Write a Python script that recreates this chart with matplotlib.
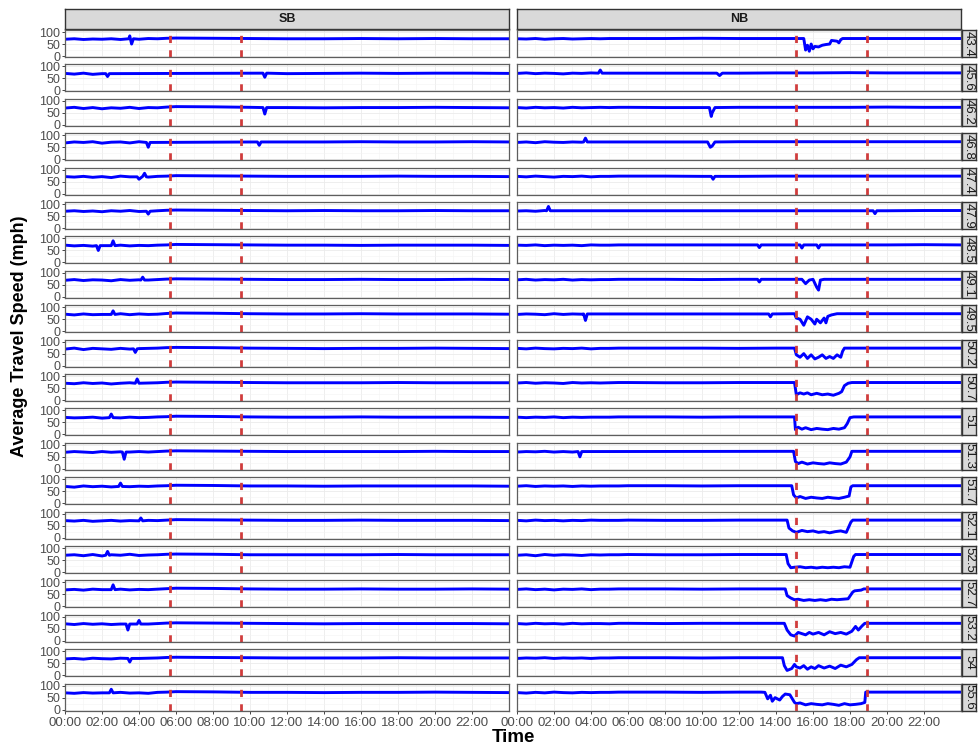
import matplotlib
matplotlib.use("Agg")
import matplotlib.pyplot as plt
import numpy as np

plt.rcParams['font.family'] = ['Liberation Sans', 'DejaVu Sans']

# mile posts (right strip labels) and direction facets
mileposts = ["43.4", "45.6", "46.2", "46.8", "47.4", "47.9", "48.5", "49.1", "49.5", "50.2",
             "50.7", "51", "51.3", "51.7", "52.1", "52.5", "52.7", "53.2", "54", "55.6"]
directions = ["SB", "NB"]
tick_hours = [0, 2, 4, 6, 8, 10, 12, 14, 16, 18, 20, 22]
tick_labels = ["00:00", "02:00", "04:00", "06:00", "08:00", "10:00",
               "12:00", "14:00", "16:00", "18:00", "20:00", "22:00"]
# dashed reference times (hours)
sb_marks = [5.65, 9.5]
nb_marks = [15.08, 18.92]

# background readings (mph) at these hours
bg_hours = [0, 0.5, 1, 1.5, 2, 2.5, 3, 3.5, 4, 4.5, 5, 5.5, 6, 8, 10, 12, 14, 16, 18, 20, 22, 24]

sb_base = [
    [70, 72, 69, 71, 70, 72, 69, 72, 70, 73, 72, 74, 75, 74, 73, 72, 72, 73, 72, 73, 72, 72],
    [71, 68, 72, 67, 70, 66, 71, 69, 72, 70, 73, 74, 75, 74, 72, 70, 71, 72, 71, 72, 72, 71],
    [70, 73, 68, 72, 67, 71, 69, 73, 68, 72, 71, 74, 76, 75, 73, 72, 71, 72, 72, 73, 72, 71],
    [68, 72, 70, 73, 67, 71, 72, 68, 73, 70, 71, 74, 75, 74, 73, 72, 72, 73, 72, 72, 73, 72],
    [71, 69, 72, 68, 71, 67, 73, 70, 72, 69, 72, 73, 75, 74, 73, 72, 72, 72, 73, 72, 72, 71],
    [70, 72, 69, 71, 68, 72, 70, 73, 69, 71, 72, 74, 75, 74, 73, 72, 73, 72, 72, 73, 72, 72],
    [72, 69, 71, 68, 73, 70, 72, 69, 71, 70, 72, 73, 75, 74, 73, 72, 72, 71, 72, 72, 72, 71],
    [69, 72, 68, 71, 70, 67, 72, 69, 71, 70, 72, 74, 75, 74, 73, 72, 72, 73, 72, 72, 73, 72],
    [71, 68, 72, 69, 70, 68, 73, 69, 72, 70, 71, 74, 76, 75, 73, 72, 72, 73, 72, 72, 72, 71],
    [69, 73, 67, 72, 70, 68, 72, 69, 71, 72, 73, 75, 76, 75, 73, 72, 71, 72, 72, 73, 72, 71],
    [70, 68, 72, 69, 71, 67, 70, 72, 68, 71, 72, 74, 75, 74, 73, 72, 72, 72, 73, 72, 72, 72],
    [71, 69, 70, 72, 68, 71, 69, 72, 70, 71, 73, 74, 76, 75, 73, 72, 72, 73, 72, 72, 72, 71],
    [69, 72, 70, 68, 72, 69, 71, 70, 72, 70, 72, 74, 75, 74, 73, 72, 72, 72, 72, 73, 72, 72],
    [70, 67, 72, 69, 71, 68, 72, 69, 71, 70, 72, 73, 75, 74, 72, 72, 71, 72, 72, 72, 72, 71],
    [71, 69, 72, 68, 70, 72, 69, 71, 68, 72, 71, 73, 75, 74, 73, 72, 72, 73, 72, 72, 72, 71],
    [70, 72, 68, 73, 67, 72, 70, 74, 69, 71, 72, 74, 75, 74, 72, 72, 72, 72, 73, 72, 72, 72],
    [69, 71, 68, 72, 70, 67, 72, 69, 71, 70, 72, 74, 76, 75, 73, 72, 72, 73, 72, 72, 73, 72],
    [71, 68, 72, 69, 71, 68, 70, 68, 72, 70, 72, 74, 75, 74, 73, 72, 71, 72, 72, 72, 72, 71],
    [68, 70, 67, 71, 69, 68, 71, 67, 70, 71, 72, 74, 75, 74, 73, 72, 72, 72, 73, 72, 72, 72],
    [70, 68, 71, 69, 70, 68, 72, 69, 70, 68, 72, 73, 75, 74, 72, 72, 71, 72, 72, 73, 72, 71],
]

nb_base = [
    [72, 71, 73, 70, 72, 73, 71, 72, 73, 72, 73, 73, 73, 73, 74, 73, 73, 73, 73, 73, 73, 73],
    [71, 73, 70, 72, 71, 69, 72, 71, 73, 72, 72, 73, 73, 73, 72, 72, 73, 73, 74, 73, 73, 73],
    [72, 70, 73, 71, 72, 70, 73, 71, 72, 73, 72, 73, 73, 72, 72, 73, 73, 73, 73, 74, 73, 73],
    [70, 72, 69, 73, 71, 70, 72, 71, 73, 72, 72, 73, 73, 73, 72, 73, 73, 73, 73, 73, 73, 73],
    [72, 70, 73, 71, 69, 72, 71, 73, 70, 72, 72, 73, 73, 73, 72, 72, 73, 73, 73, 73, 73, 73],
    [71, 72, 70, 73, 71, 72, 70, 72, 71, 73, 72, 72, 73, 73, 72, 73, 73, 73, 73, 72, 73, 73],
    [72, 71, 73, 70, 72, 71, 72, 70, 73, 72, 72, 73, 73, 73, 73, 73, 73, 73, 73, 73, 74, 73],
    [71, 73, 70, 72, 71, 73, 70, 72, 71, 72, 72, 73, 73, 73, 72, 73, 73, 72, 73, 73, 73, 73],
    [70, 72, 71, 69, 73, 70, 72, 71, 72, 71, 72, 72, 73, 73, 72, 73, 73, 72, 73, 73, 73, 73],
    [72, 70, 73, 71, 70, 72, 71, 73, 70, 72, 72, 73, 73, 73, 73, 72, 73, 72, 73, 73, 73, 73],
    [71, 73, 70, 72, 71, 69, 73, 71, 72, 71, 72, 73, 73, 72, 72, 73, 73, 72, 73, 73, 73, 73],
    [72, 70, 72, 71, 73, 70, 72, 71, 72, 72, 72, 73, 73, 73, 72, 73, 73, 72, 73, 73, 73, 73],
    [70, 72, 71, 73, 70, 72, 70, 72, 71, 72, 72, 73, 73, 73, 72, 73, 73, 72, 73, 73, 73, 73],
    [71, 73, 70, 72, 71, 72, 70, 72, 71, 72, 72, 72, 73, 73, 72, 73, 73, 72, 73, 73, 73, 73],
    [72, 70, 73, 71, 72, 70, 72, 71, 73, 72, 72, 72, 73, 72, 72, 73, 73, 72, 73, 73, 73, 73],
    [70, 72, 68, 73, 70, 72, 71, 69, 72, 71, 72, 72, 73, 72, 72, 73, 73, 72, 73, 73, 73, 73],
    [71, 73, 70, 72, 69, 72, 71, 73, 70, 72, 72, 73, 73, 73, 72, 73, 73, 72, 73, 73, 73, 73],
    [72, 70, 73, 71, 72, 70, 73, 71, 72, 72, 71, 73, 73, 72, 73, 73, 73, 72, 73, 73, 73, 73],
    [70, 72, 71, 73, 70, 72, 71, 72, 70, 72, 72, 73, 73, 73, 72, 73, 73, 72, 73, 73, 73, 73],
    [71, 69, 72, 70, 73, 71, 70, 72, 71, 72, 72, 73, 73, 73, 72, 73, 73, 72, 73, 73, 73, 73],
]

# local events (dips / spikes / congestion): hours, mph
sb_ev_hours = [
    [3.45, 3.5, 3.6, 3.7], [2.2, 2.3, 2.4, 10.7, 10.8, 10.9], [10.7, 10.8, 10.9], [4.4, 4.5, 4.6, 10.4, 10.5, 10.6],
    [3.9, 4.0, 4.2, 4.3, 4.4], [4.4, 4.5, 4.6], [1.7, 1.8, 1.9, 2.5, 2.6, 2.7], [4.1, 4.2, 4.3],
    [2.5, 2.6, 2.7], [3.7, 3.8, 3.9], [3.8, 3.9, 4.0], [2.4, 2.5, 2.6],
    [3.1, 3.2, 3.3], [2.9, 3.0, 3.1], [4.0, 4.1, 4.2], [2.2, 2.3, 2.4],
    [2.5, 2.6, 2.7], [3.3, 3.4, 3.5, 3.9, 4.0, 4.1], [3.4, 3.5, 3.6], [2.4, 2.5, 2.6],
]
sb_ev_speeds = [
    [72, 84, 50, 72], [70, 58, 70, 72, 55, 72], [72, 45, 72], [70, 50, 70, 72, 58, 72],
    [70, 60, 72, 85, 70], [70, 58, 70], [70, 50, 70, 70, 90, 70], [70, 82, 70],
    [70, 85, 70], [70, 55, 70], [70, 88, 70], [70, 85, 70],
    [70, 40, 70], [70, 84, 70], [70, 82, 70], [70, 86, 70],
    [70, 90, 70], [70, 45, 70, 70, 85, 70], [70, 55, 70], [70, 85, 70],
]

nb_ev_hours = [
    [15.5, 15.6, 15.7, 15.8, 15.9, 16.0, 16.1, 16.3, 16.5, 16.7, 16.9, 17.0, 17.3, 17.4, 17.5, 17.6],
    [4.4, 4.5, 4.6, 10.8, 10.95, 11.1],
    [10.4, 10.5, 10.55, 10.7],
    [3.6, 3.7, 3.8, 10.3, 10.45, 10.55, 10.7],
    [10.5, 10.6, 10.7],
    [1.6, 1.7, 1.8, 19.25, 19.35, 19.45],
    [13.0, 13.1, 13.2, 15.3, 15.4, 15.5, 16.2, 16.3, 16.4],
    [13.0, 13.1, 13.2, 15.4, 15.6, 15.8, 16.0, 16.2, 16.3, 16.4, 16.6],
    [3.6, 3.7, 3.8, 13.6, 13.7, 13.8, 15.0, 15.1, 15.3, 15.5, 15.7, 15.9, 16.1, 16.2, 16.4, 16.6, 16.7, 16.8, 17.0, 17.3],
    [15.0, 15.1, 15.3, 15.5, 15.7, 15.9, 16.1, 16.3, 16.5, 16.7, 16.9, 17.1, 17.3, 17.5, 17.6, 17.7],
    [15.0, 15.1, 15.3, 15.5, 15.7, 15.9, 16.2, 16.5, 16.8, 17.1, 17.4, 17.55, 17.7, 17.9, 18.1],
    [15.0, 15.05, 15.2, 15.4, 15.6, 15.9, 16.2, 16.5, 16.8, 17.1, 17.4, 17.7, 17.85, 18.0, 18.2],
    [3.3, 3.4, 3.5, 14.95, 15.05, 15.2, 15.4, 15.7, 16.0, 16.3, 16.6, 16.9, 17.2, 17.5, 17.8, 18.0, 18.1],
    [14.85, 14.95, 15.1, 15.3, 15.6, 15.9, 16.2, 16.5, 16.8, 17.1, 17.4, 17.7, 17.95, 18.05, 18.15],
    [14.6, 14.7, 14.9, 15.1, 15.4, 15.7, 16.0, 16.3, 16.6, 16.9, 17.2, 17.5, 17.8, 18.05, 18.15],
    [14.55, 14.65, 14.8, 15.0, 15.3, 15.6, 15.9, 16.2, 16.5, 16.8, 17.1, 17.4, 17.7, 18.0, 18.2, 18.3],
    [14.5, 14.6, 14.8, 15.0, 15.2, 15.5, 15.8, 16.1, 16.4, 16.7, 17.0, 17.3, 17.6, 17.9, 18.15, 18.25, 18.6, 18.75],
    [14.45, 14.6, 14.8, 15.0, 15.2, 15.4, 15.6, 15.8, 16.0, 16.3, 16.6, 16.9, 17.2, 17.5, 17.8, 18.1, 18.3, 18.45, 18.65, 18.8],
    [14.35, 14.45, 14.6, 14.85, 15.0, 15.1, 15.3, 15.5, 15.7, 15.9, 16.1, 16.3, 16.6, 16.9, 17.2, 17.5, 17.8, 18.1, 18.35, 18.5],
    [13.2, 13.4, 13.55, 13.7, 13.8, 13.95, 14.2, 14.35, 14.5, 14.75, 15.0, 15.1, 15.3, 15.6, 15.9, 16.2, 16.5, 16.8,
     17.1, 17.4, 17.7, 18.0, 18.3, 18.6, 18.8, 18.85],
]
nb_ev_speeds = [
    [73, 25, 45, 20, 50, 30, 40, 38, 45, 48, 50, 65, 62, 55, 68, 73],
    [72, 85, 72, 72, 62, 72],
    [72, 35, 50, 72],
    [72, 88, 72, 72, 50, 55, 72],
    [72, 60, 72],
    [72, 90, 72, 72, 60, 72],
    [73, 62, 73, 73, 60, 73, 73, 60, 73],
    [73, 62, 73, 73, 55, 70, 73, 40, 28, 70, 73],
    [72, 45, 72, 72, 60, 72, 73, 55, 50, 25, 60, 50, 30, 50, 35, 55, 35, 62, 68, 73],
    [73, 45, 35, 50, 30, 45, 28, 35, 45, 30, 38, 30, 45, 35, 60, 73],
    [73, 22, 30, 25, 30, 22, 28, 22, 25, 20, 28, 35, 60, 70, 73],
    [73, 20, 30, 22, 28, 20, 25, 22, 20, 25, 22, 28, 45, 70, 73],
    [72, 50, 72, 73, 30, 22, 28, 20, 25, 22, 20, 25, 22, 20, 28, 50, 73],
    [73, 35, 22, 28, 20, 25, 22, 20, 25, 22, 20, 25, 30, 68, 73],
    [73, 40, 28, 22, 30, 25, 28, 22, 25, 20, 25, 28, 22, 65, 73],
    [73, 35, 18, 20, 22, 18, 20, 17, 20, 18, 20, 18, 22, 20, 65, 73],
    [73, 45, 35, 28, 30, 25, 28, 25, 28, 25, 30, 28, 30, 32, 60, 65, 68, 73],
    [73, 45, 25, 20, 35, 30, 25, 35, 28, 35, 25, 38, 30, 35, 28, 40, 60, 45, 62, 73],
    [73, 40, 20, 28, 45, 35, 30, 40, 25, 35, 28, 40, 30, 38, 28, 42, 35, 45, 65, 73],
    [73, 72, 45, 60, 35, 50, 40, 55, 65, 62, 30, 25, 28, 20, 25, 22, 20, 25, 22, 18, 25, 20, 22, 25, 30, 73],
]


def build_series(base, ev_h, ev_v):
    lo, hi = min(ev_h), max(ev_h)
    pts = [(h, v) for h, v in zip(bg_hours, base) if h < lo or h > hi]
    pts += list(zip(ev_h, ev_v))
    pts.sort()
    return [p[0] for p in pts], [p[1] for p in pts]


W, H = 979, 744
fig = plt.figure(figsize=(W / 100, H / 100), dpi=100)


def px_axes(x0, y0, w, h):
    return fig.add_axes([x0 / W, 1 - (y0 + h) / H, w / W, h / H])


col_left = [65, 517]
col_w = 444
row_top0 = 30
row_pitch = 34.4
row_h = 27

bases = [sb_base, nb_base]
ev_hours = [sb_ev_hours, nb_ev_hours]
ev_speeds = [sb_ev_speeds, nb_ev_speeds]
marks = [sb_marks, nb_marks]

for j, d in enumerate(directions):
    # top strip
    sx = px_axes(col_left[j], 9, col_w, 20)
    sx.set_facecolor('#D9D9D9')
    sx.set_xticks([]); sx.set_yticks([])
    for s in sx.spines.values():
        s.set_color('#333333'); s.set_linewidth(1)
    sx.text(0.5, 0.5, d, ha='center', va='center', fontsize=9, fontweight='bold',
            color='#1A1A1A', transform=sx.transAxes)

    for i in range(len(mileposts)):
        y0 = row_top0 + i * row_pitch
        ax = px_axes(col_left[j], y0, col_w, row_h)
        hh, vv = build_series(bases[j][i], ev_hours[j][i], ev_speeds[j][i])
        ax.plot(hh, vv, color='#0000FF', lw=2.1, solid_joinstyle='round')
        for m in marks[j]:
            ax.axvline(m, color='#D03C3C', lw=2, linestyle=(0, (2.6, 2.6)))
        ax.set_xlim(0, 24)
        ax.set_ylim(-4, 108.5)
        ax.set_xticks(tick_hours)
        ax.set_xticks(np.arange(1, 24, 2), minor=True)
        ax.set_yticks([0, 50, 100])
        ax.set_yticks([25, 75], minor=True)
        ax.grid(which='major', color='#EBEBEB', lw=0.6)
        ax.grid(which='minor', color='#F3F3F3', lw=0.4)
        ax.set_axisbelow(True)
        for s in ax.spines.values():
            s.set_color('#5E5E5E'); s.set_linewidth(0.9)
        ax.tick_params(which='minor', length=0)
        ax.tick_params(which='major', length=2.5, width=0.7, color='#444444',
                       labelcolor='#4D4D4D', pad=1)
        if j == 0:
            ax.tick_params(axis='y', labelsize=9)
        else:
            ax.tick_params(axis='y', left=False, labelleft=False)
        if i == len(mileposts) - 1:
            ax.set_xticklabels(tick_labels)
            ax.tick_params(axis='x', labelsize=9.5, pad=2)
        else:
            ax.tick_params(axis='x', bottom=False, labelbottom=False)

        if j == 1:
            rx = px_axes(962, y0, 14, row_h)
            rx.set_facecolor('#D9D9D9')
            rx.set_xticks([]); rx.set_yticks([])
            for s in rx.spines.values():
                s.set_color('#333333'); s.set_linewidth(1)
            rx.text(0.5, 0.5, mileposts[i], ha='center', va='center', rotation=-90,
                    fontsize=9.5, color='#1A1A1A', transform=rx.transAxes)

fig.text(20 / W, 1 - 336 / H, "Average Travel Speed (mph)", rotation=90, ha='center',
         va='center', fontsize=13, fontweight='bold')
fig.text(513 / W, 1 - 737 / H, "Time", ha='center', va='center', fontsize=13.5,
         fontweight='bold')

fig.savefig("out.png", dpi=100)
